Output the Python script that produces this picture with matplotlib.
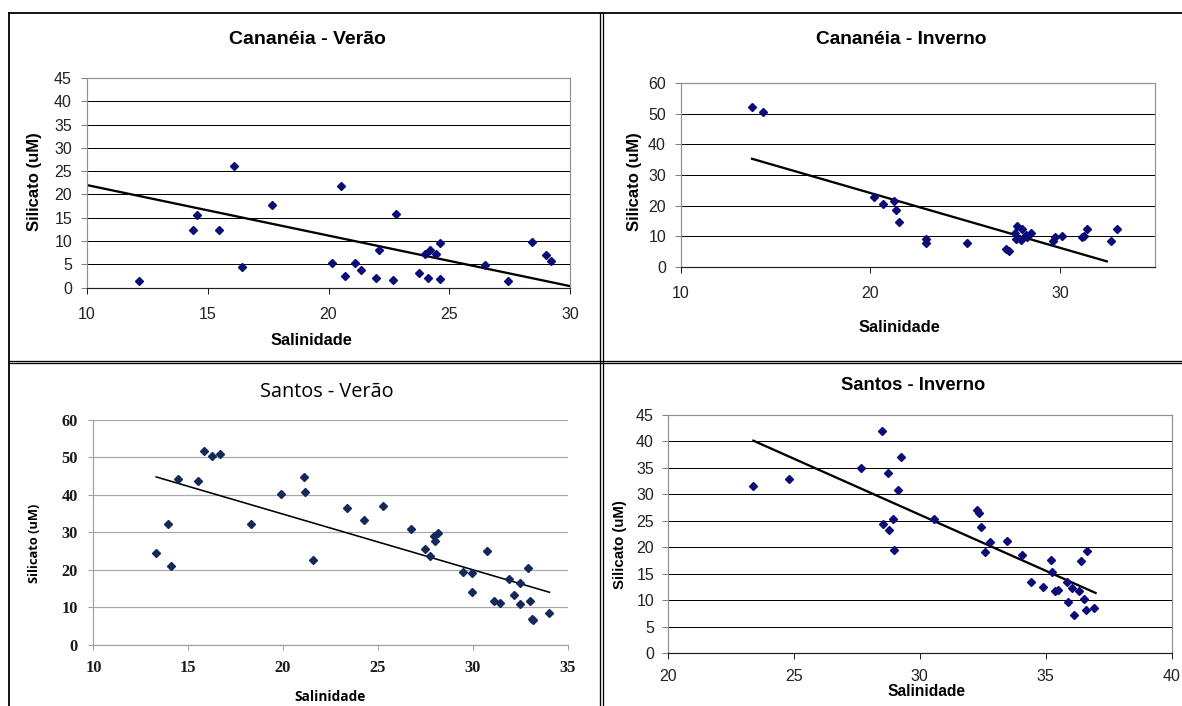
import matplotlib
matplotlib.use("Agg")
import matplotlib.pyplot as plt
from matplotlib.lines import Line2D

W, H = 1182, 706
DPI = 100

# ---------------- data ----------------
# Cananéia - Verão
cv_sal = [12.17, 14.37, 14.56, 15.48, 16.1, 16.42, 17.64, 20.16, 20.5, 20.68, 21.09, 21.35,
          21.95, 22.08, 22.69, 22.8, 23.74, 23.98, 24.12, 24.2, 24.45, 24.6, 24.61, 26.5,
          27.45, 28.41, 29.02, 29.22]
cv_sil = [1.4, 12.3, 15.6, 12.3, 26.0, 4.4, 17.7, 5.3, 21.7, 2.5, 5.2, 3.8,
          2.1, 8.0, 1.7, 15.8, 3.2, 7.3, 2.1, 8.0, 7.1, 9.5, 1.8, 4.9,
          1.4, 9.8, 6.9, 5.7]
cv_trend_x = [10.0, 30.0]
cv_trend_y = [22.0, 0.3]

# Cananéia - Inverno
ci_sal = [13.77, 14.36, 20.19, 20.69, 21.26, 21.34, 21.51, 22.92, 22.94, 25.11, 27.15, 27.3,
          27.71, 27.69, 27.65, 27.95, 28.0, 28.2, 28.28, 28.46, 29.65, 29.73, 30.1, 31.17,
          31.27, 31.4, 32.66, 33.0]
ci_sil = [52.1, 50.6, 22.7, 20.5, 21.6, 18.5, 14.6, 8.9, 7.6, 7.6, 5.9, 5.2,
          13.4, 8.9, 10.9, 8.7, 12.2, 10.5, 9.6, 11.1, 8.3, 9.8, 10.0, 9.6,
          10.0, 12.2, 8.3, 12.2]
ci_trend_x = [13.77, 32.46]
ci_trend_y = [35.3, 1.75]

# Santos - Verão
sv_sal = [13.31, 13.91, 14.08, 14.46, 15.53, 15.83, 16.26, 16.68, 18.31, 19.91, 21.08, 21.14,
          21.58, 23.38, 24.27, 25.27, 26.77, 27.51, 27.76, 27.94, 28.0, 28.16, 29.47, 29.98,
          29.98, 30.76, 31.11, 31.45, 31.91, 32.2, 32.5, 32.5, 32.94, 33.04, 33.14, 33.2, 34.0]
sv_sil = [24.6, 32.35, 20.9, 44.2, 43.8, 51.8, 50.4, 50.8, 32.2, 40.3, 44.8, 40.7,
          22.6, 36.6, 33.3, 37.1, 30.9, 25.5, 23.7, 29.0, 27.7, 29.7, 19.3, 19.1,
          14.0, 24.9, 11.8, 11.2, 17.6, 13.4, 16.4, 10.8, 20.4, 11.7, 6.9, 6.6, 8.4]
sv_trend_x = [13.31, 34.05]
sv_trend_y = [44.8, 14.0]

# Santos - Inverno
si_sal = [23.39, 24.79, 27.68, 28.5, 28.55, 28.74, 28.78, 28.93, 28.99, 29.12, 29.27, 30.58,
          32.28, 32.34, 32.42, 32.6, 32.8, 33.46, 34.06, 34.4, 34.89, 35.21, 35.25, 35.37,
          35.49, 35.84, 35.89, 36.03, 36.12, 36.32, 36.39, 36.54, 36.61, 36.65, 36.92]
si_sil = [31.5, 33.0, 35.0, 42.0, 24.4, 34.0, 23.2, 25.4, 19.6, 30.8, 37.0, 25.4,
          27.1, 26.4, 23.8, 19.1, 21.1, 21.3, 18.6, 13.4, 12.6, 17.6, 15.4, 11.8,
          12.0, 13.4, 9.75, 12.4, 7.2, 11.8, 17.4, 10.3, 8.2, 19.4, 8.6]
si_trend_x = [23.39, 36.98]
si_trend_y = [40.15, 11.4]

titles = ["Cananéia - Verão", "Cananéia - Inverno", "Santos - Verão", "Santos - Inverno"]
xlabel = "Salinidade"
ylabel = "Silicato (uM)"

# ---------------- figure ----------------
fig = plt.figure(figsize=(W / DPI, H / DPI), dpi=DPI)
fig.patch.set_facecolor("white")

PX = 0.72  # points per pixel


def add_ax(x0, x1, ytop, ybot):
    return fig.add_axes([x0 / W, 1 - ybot / H, (x1 - x0) / W, (ybot - ytop) / H])


def ftext(x, y, s, **kw):
    fig.text(x / W, 1 - y / H, s, ha="center", va="center", **kw)


ARIAL = ["Liberation Sans", "DejaVu Sans"]
NAVY = "#0c0c78"


def style_excel2003(ax, xlim, ylim, xticks, yticks, xpad, ypad, fs=11.5):
    ax.set_xlim(*xlim)
    ax.set_ylim(*ylim)
    ax.set_xticks(xticks)
    ax.set_yticks(yticks)
    ax.grid(axis="y", color="#000000", linewidth=1.0 * PX)
    ax.set_axisbelow(True)
    for s in ["top", "right", "left"]:
        ax.spines[s].set_color("#909090")
        ax.spines[s].set_linewidth(1.2 * PX)
    ax.spines["bottom"].set_color("#202020")
    ax.spines["bottom"].set_linewidth(1.2 * PX)
    ax.tick_params(axis="x", direction="out", length=6 * PX, width=1 * PX, color="#202020",
                   pad=xpad * PX, labelsize=fs, labelcolor="#222222")
    ax.tick_params(axis="y", direction="out", length=6 * PX, width=1 * PX, color="#808080",
                   pad=ypad * PX, labelsize=fs, labelcolor="#222222")
    for lab in ax.get_xticklabels() + ax.get_yticklabels():
        lab.set_family(ARIAL)


MS = 4.4

# Panel 1: Cananéia - Verão
ax1 = add_ax(87, 570, 78, 287.5)
ax1.plot(cv_trend_x, cv_trend_y, color="black", linewidth=2.3 * PX, zorder=2)
ax1.plot(cv_sal, cv_sil, linestyle="none", marker="D", ms=MS, color=NAVY, mec=NAVY, zorder=3)
style_excel2003(ax1, (10, 30), (0, 45), range(10, 31, 5), range(0, 46, 5), 13, 9)
ftext(307, 40, titles[0], family=ARIAL, fontsize=14, fontweight="bold")
ftext(311, 340, xlabel, family=ARIAL, fontsize=11.8, fontweight="bold")
ftext(35, 182, ylabel, family=ARIAL, fontsize=12, fontweight="bold", rotation=90)

# Panel 2: Cananéia - Inverno
ax2 = add_ax(680.5, 1155, 83.3, 266.7)
ax2.plot(ci_trend_x, ci_trend_y, color="black", linewidth=2.3 * PX, zorder=2)
ax2.plot(ci_sal, ci_sil, linestyle="none", marker="D", ms=MS, color=NAVY, mec=NAVY, zorder=3)
style_excel2003(ax2, (10, 35), (0, 60), range(10, 31, 10), range(0, 61, 10), 13, 8.5)
ftext(901, 40, titles[1], family=ARIAL, fontsize=13.8, fontweight="bold")
ftext(899, 327, xlabel, family=ARIAL, fontsize=11.8, fontweight="bold")
ftext(634, 182, ylabel, family=ARIAL, fontsize=12, fontweight="bold", rotation=90)

# Panel 3: Santos - Verão (Excel 2007 style)
ax3 = add_ax(93.4, 567.5, 420, 644.7)
ax3.plot(sv_trend_x, sv_trend_y, color="black", linewidth=1.6 * PX, zorder=2)
ax3.plot(sv_sal, sv_sil, linestyle="none", marker="D", ms=MS, color="#14295a", mec="#14295a", zorder=3)
ax3.set_xlim(10, 35)
ax3.set_ylim(0, 60)
ax3.set_xticks(range(10, 36, 5))
ax3.set_yticks(range(0, 61, 10))
ax3.grid(axis="y", color="#a8a8a8", linewidth=1.2 * PX)
ax3.set_axisbelow(True)
ax3.spines["top"].set_visible(False)
ax3.spines["right"].set_visible(False)
for s in ["left", "bottom"]:
    ax3.spines[s].set_color("#a0a0a0")
    ax3.spines[s].set_linewidth(1.2 * PX)
ax3.tick_params(axis="both", direction="out", length=5 * PX, width=1 * PX, color="#a0a0a0",
                labelsize=11.8, labelcolor="#1a1a1a")
ax3.tick_params(axis="x", pad=10 * PX)
ax3.tick_params(axis="y", pad=10.5 * PX)
for lab in ax3.get_xticklabels() + ax3.get_yticklabels():
    lab.set_family(["Liberation Serif", "DejaVu Serif"])
    lab.set_fontweight("bold")
ftext(327, 392, titles[2], family=["Open Sans", "DejaVu Sans"], fontsize=14.3)
ftext(330, 697, xlabel, family=["Open Sans", "DejaVu Sans"], fontsize=9.8, fontweight="bold")
ftext(34, 543, ylabel, family=["Open Sans", "DejaVu Sans"], fontsize=9.3, fontweight="bold", rotation=90)

# Panel 4: Santos - Inverno
ax4 = add_ax(668, 1171.6, 415, 653.3)
ax4.plot(si_trend_x, si_trend_y, color="black", linewidth=2.3 * PX, zorder=2)
ax4.plot(si_sal, si_sil, linestyle="none", marker="D", ms=MS, color=NAVY, mec=NAVY, zorder=3)
style_excel2003(ax4, (20, 40), (0, 45), range(20, 41, 5), range(0, 46, 5), 10, 8)
ftext(913, 386, titles[3], family=ARIAL, fontsize=13.2, fontweight="bold")
ftext(927, 692, xlabel, family=ARIAL, fontsize=11.2, fontweight="bold")
ftext(620, 545, ylabel, family=ARIAL, fontsize=10.8, fontweight="bold", rotation=90)

# ---------------- table borders ----------------
def hline(y, x0, x1, lw=1.3):
    fig.add_artist(Line2D([x0 / W, x1 / W], [1 - y / H, 1 - y / H], color="black",
                          linewidth=lw * PX, transform=fig.transFigure))


def vline(x, y0, y1, lw=1.3):
    fig.add_artist(Line2D([x / W, x / W], [1 - y0 / H, 1 - y1 / H], color="black",
                          linewidth=lw * PX, transform=fig.transFigure))


hline(12.5, 9, W, lw=1.8)
vline(9.5, 12.5, H, lw=1.8)
vline(600.3, 12.5, H)
vline(602.6, 12.5, H)
hline(360.7, 9, W)
hline(363.0, 9, W)

fig.savefig("out.png", dpi=DPI, facecolor="white")
